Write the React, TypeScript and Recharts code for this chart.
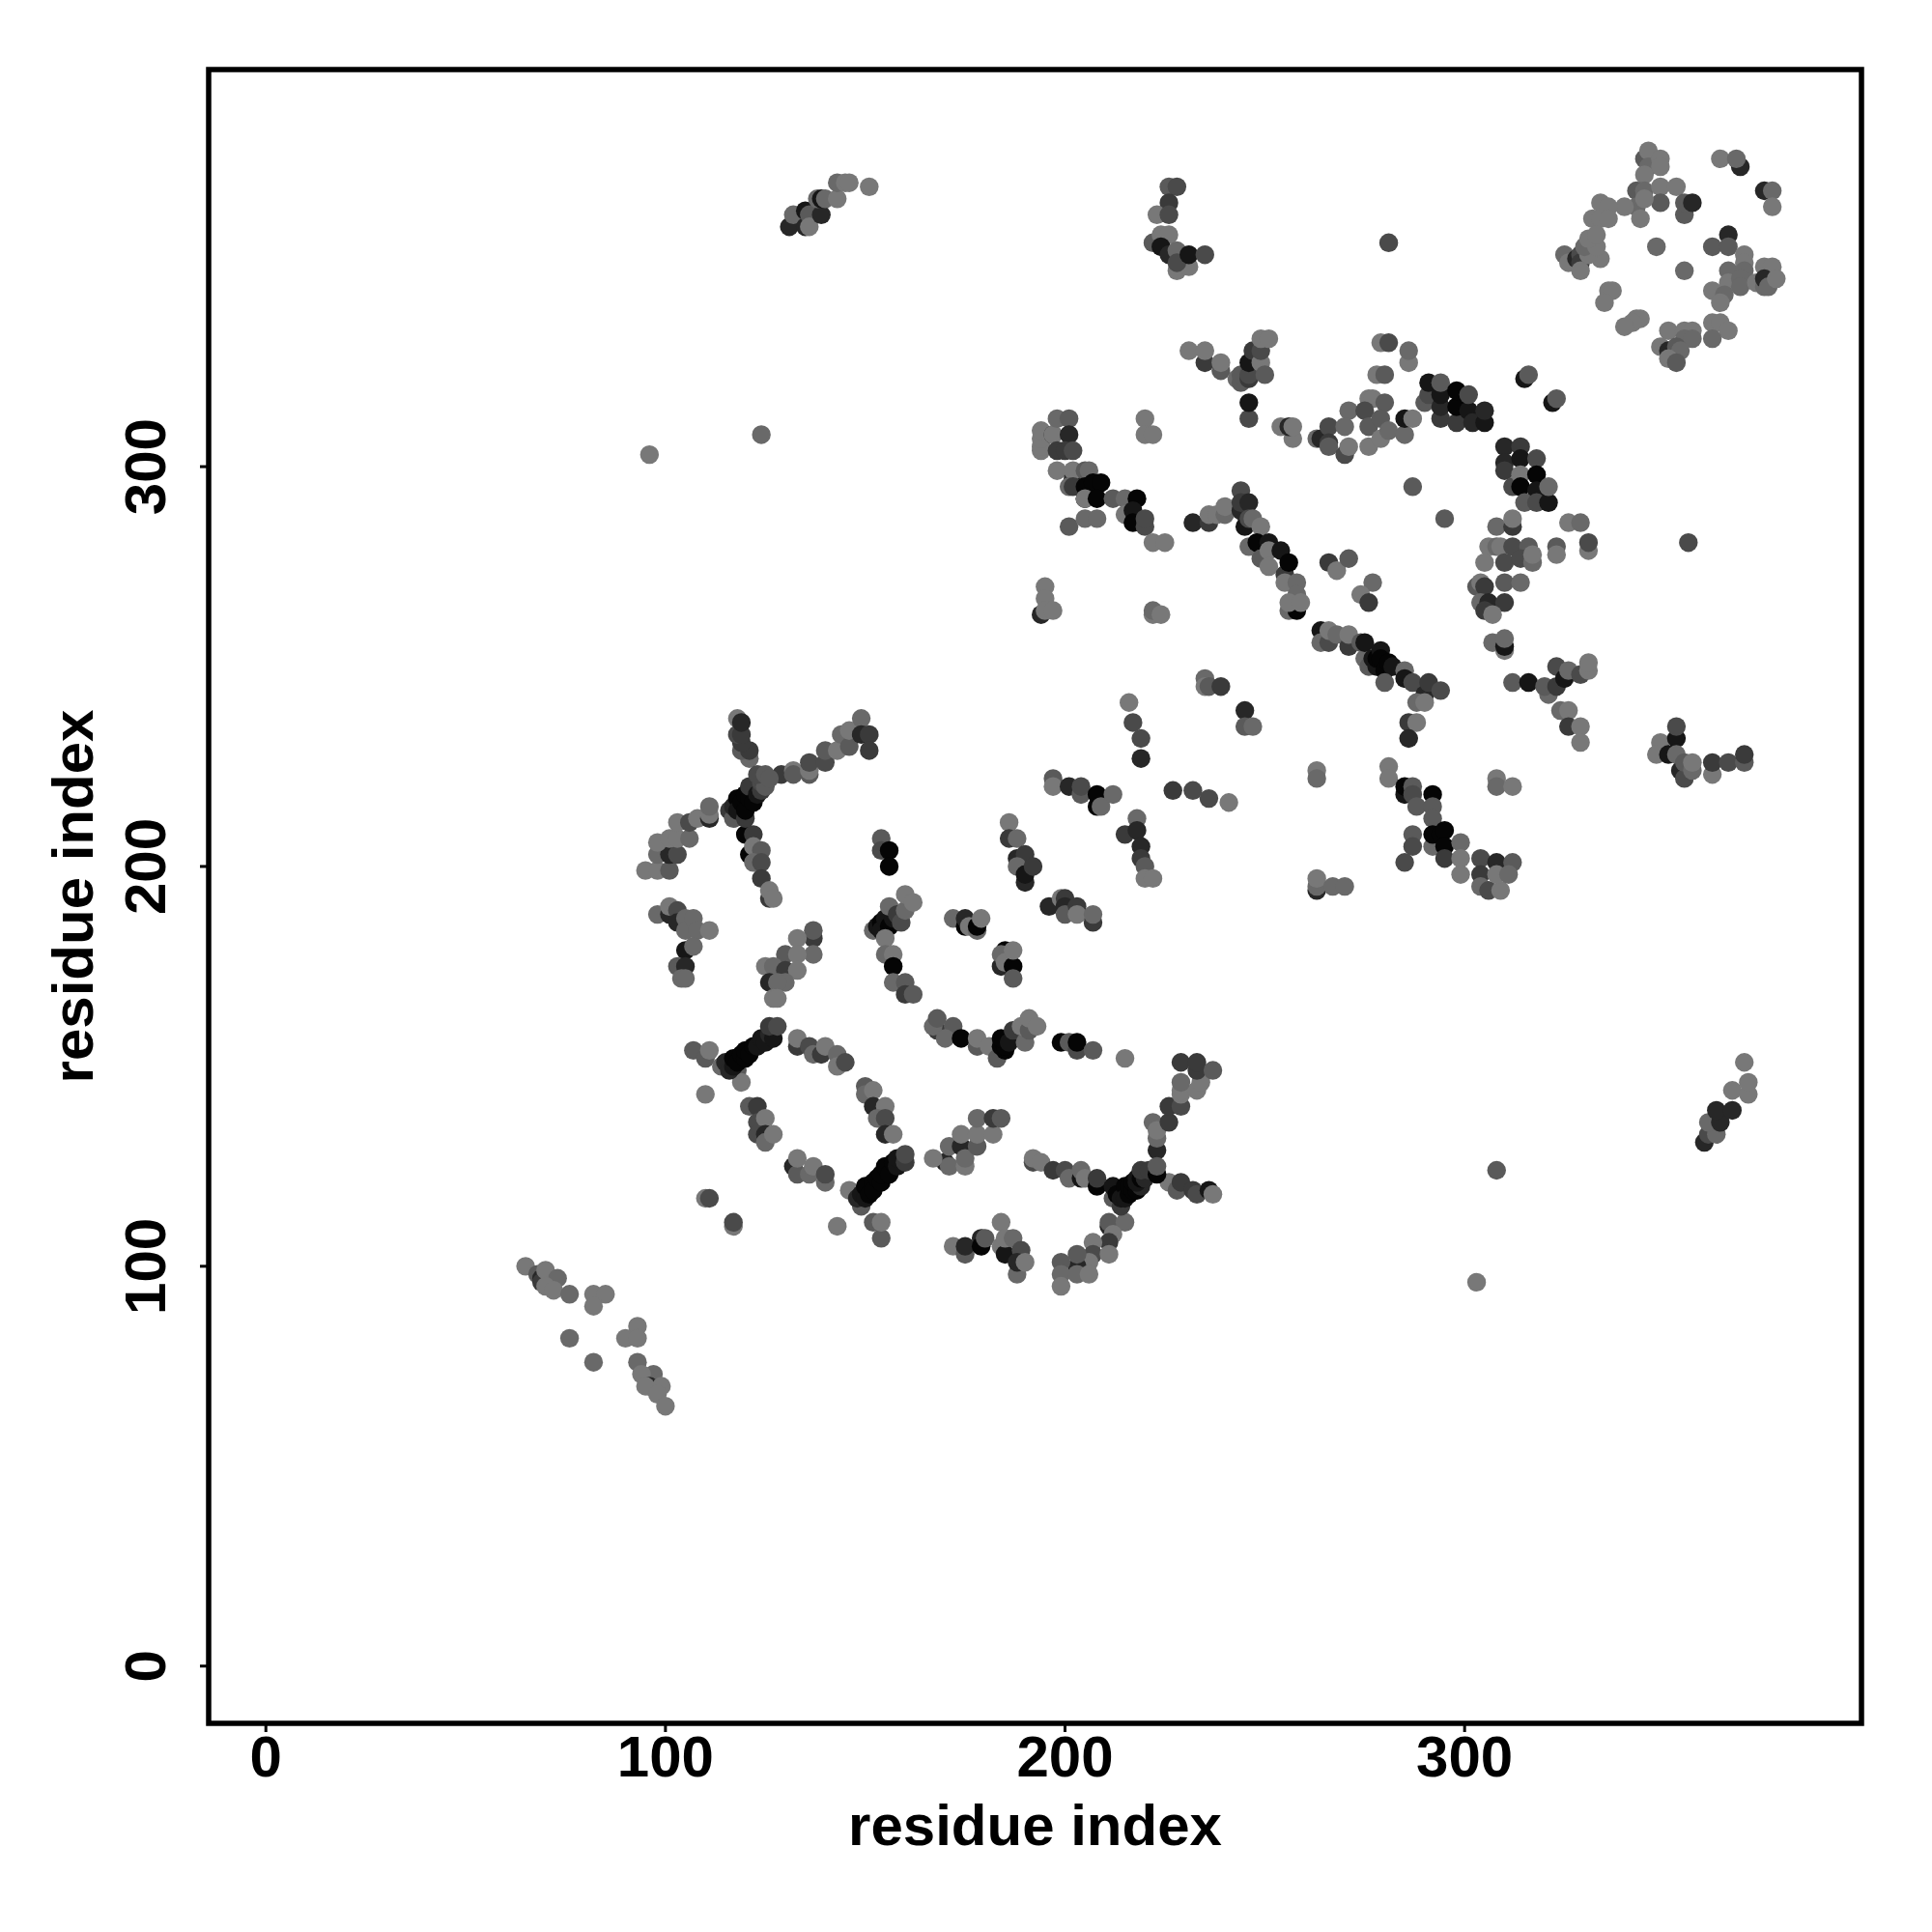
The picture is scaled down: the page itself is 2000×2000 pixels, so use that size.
import React from 'react';
import { ScatterChart, Scatter, XAxis, YAxis, ReferenceArea } from 'recharts';

type T = [number, number, number];

// [residue i, residue j, contact level 0 (darkest) .. 7 (lightest)]
const tail: T[] = [[65,100,7],[68,98,5],[69,97,2],[69,96,3],[70,99,7],[73,97,6],[70,95,7],[72,94,7],[76,93,6],[82,93,7],[85,93,7],[82,90,7],[93,85,7],[90,82,7],[93,82,7],[76,82,6],[82,76,6],[93,76,6],[97,73,6],[94,73,7],[96,70,2],[95,70,7],[99,70,7],[98,68,7],[100,65,7]];
const loners: T[] = [[110,143,7],[110,117,7],[111,117,4],[117,110,7],[117,111,4],[143,110,7],[146,119,7],[215,152,7],[281,356,4],[287,295,5],[295,287,5],[356,281,4],[308,124,5],[303,96,7],[124,308,6],[96,303,7],[348,355,6],[355,349,6]];
const ringA: T[] = [[107,154,5],[110,152,5],[111,154,7],[114,150,6],[118,149,5],[119,146,7],[115,151,2],[116,149,2],[117,150,1],[117,152,0],[118,151,0],[119,153,0],[120,152,0],[120,154,0],[121,153,0],[122,155,0],[123,155,1],[124,157,1],[125,156,1],[126,158,2],[127,157,1],[126,160,3],[128,160,4]];
const ringB: T[] = [[133,155,3],[133,157,7],[136,155,4],[137,153,6],[139,153,3],[140,155,7],[143,153,6],[143,150,7],[145,151,4],[150,145,5],[150,143,6],[152,144,7],[152,140,2],[155,140,7],[153,137,6],[155,137,4],[155,133,2],[157,133,7]];
const ringC: T[] = [[121,140,5],[123,140,3],[123,136,4],[125,137,7],[123,133,4],[125,133,2],[125,131,6],[127,133,7],[132,125,2],[133,123,5],[133,127,7],[136,123,6],[137,125,7],[140,121,6],[140,123,4]];
const ringD: T[] = [[149,115,5],[148,117,2],[149,118,1],[150,117,1],[150,120,0],[151,118,0],[152,121,0],[152,119,0],[153,122,0],[154,121,0],[154,123,0],[155,125,0],[156,123,0],[157,126,0],[158,125,1],[158,127,1],[160,126,3],[160,128,4],[152,111,5],[154,107,5],[154,111,7]];
const arcA: T[] = [[168,159,3],[167,160,6],[168,162,5],[172,160,5],[170,157,6],[174,157,0],[178,155,5],[178,157,7],[181,155,7],[183,152,5],[185,154,0],[184,155,0],[185,155,0],[184,157,0],[186,156,1],[187,159,3],[190,156,6],[189,160,7],[191,159,5],[191,162,7],[193,160,7],[199,156,0],[201,156,5],[203,154,4],[203,156,0],[207,154,5]];
const starW: T[] = [[192,126,4],[192,127,7],[194,126,7],[197,124,3],[200,124,4],[201,122,6],[204,122,1],[204,124,6],[205,122,7],[208,120,0],[208,122,3]];
const starHub: T[] = [[212,117,5],[214,115,3],[212,120,1],[213,118,0],[214,117,1],[215,120,0],[215,117,1],[216,118,0],[216,120,0],[217,119,0],[217,121,0],[218,119,0],[218,122,1],[219,120,2],[218,121,1],[219,122,0],[220,122,2],[219,124,3],[221,124,3],[223,123,0],[223,125,5]];
const starN: T[] = [[223,129,2],[223,132,6],[222,136,6],[223,134,7],[226,136,3],[226,140,3],[229,140,4],[229,143,7],[229,144,7],[233,144,7],[229,146,6],[234,146,7],[229,151,3],[233,149,3],[233,151,3],[237,149,5]];
const starE: T[] = [[226,121,7],[228,119,5],[229,121,3],[232,119,3],[233,118,4],[236,119,1],[237,118,7]];
const starS: T[] = [[211,110,2],[211,111,5],[215,111,6],[212,108,7],[211,106,3],[207,106,7],[207,103,4],[211,103,7],[206,101,7],[203,100,2],[203,103,5],[199,101,5],[199,98,6],[203,98,6],[206,98,7],[199,95,7]];
const patchA: T[] = [[170,126,2],[171,125,6],[167,127,7],[171,130,6],[174,130,2],[174,133,7],[175,125,7],[175,127,6],[178,130,5],[178,133,7],[182,133,7],[178,137,6],[182,137,3],[184,137,5]];
const patchB: T[] = [[172,105,7],[175,103,5],[175,105,2],[179,107,2],[179,105,0],[180,107,5],[184,111,7],[184,105,7],[185,103,1],[185,107,7],[187,107,6],[189,104,4],[188,98,6],[188,101,2],[190,101,7]];
const hubW: T[] = [[95,199,7],[98,199,7],[101,199,5],[98,203,6],[101,203,2],[103,203,4],[98,206,7],[101,207,7],[103,207,7],[106,207,6],[103,211,7],[106,211,4],[108,212,7],[111,212,2],[111,213,7],[111,215,6]];
const hubCore: T[] = [[116,214,3],[117,212,5],[117,215,2],[118,217,0],[118,214,1],[119,216,0],[120,212,3],[120,214,0],[120,218,0],[121,217,0],[122,219,0],[121,220,3],[122,216,0],[123,218,1],[124,219,3],[124,221,4],[125,220,5],[123,223,4],[125,223,5],[126,222,5]];
const hubN: T[] = [[121,227,6],[119,229,5],[121,229,3],[119,231,3],[118,233,4],[119,233,3],[118,237,7],[119,236,2]];
const hubE: T[] = [[129,223,3],[132,224,7],[132,223,5],[136,223,5],[136,224,7],[136,226,4],[140,226,4],[140,229,5],[143,229,7],[144,233,6],[146,230,5],[146,234,7],[149,237,6],[149,233,2],[151,233,3],[151,229,3]];
const hubS: T[] = [[120,208,0],[122,208,3],[121,203,0],[122,205,7],[124,204,5],[122,201,6],[124,201,4],[124,197,3],[126,192,3],[126,194,7],[127,192,7]];
const leftA: T[] = [[98,188,6],[101,188,2],[101,190,7],[103,189,4],[103,186,2],[105,187,6],[105,184,6],[107,187,6],[108,184,6],[111,184,7],[105,179,1],[107,180,6],[103,175,5],[105,175,2],[104,172,6],[105,172,6]];
const midA: T[] = [[137,182,3],[137,184,5],[133,182,7],[137,178,6],[130,178,5],[133,178,7],[125,175,7],[127,175,6],[130,174,3],[133,174,7],[126,171,2],[130,171,6],[128,171,6],[127,167,7],[128,167,7]];
const midB: T[] = [[154,207,5],[154,204,4],[156,204,0],[156,200,0],[152,184,6],[153,185,1],[154,186,0],[154,184,1],[155,187,1],[156,185,0],[157,187,1],[155,182,7],[156,190,6],[158,188,3],[159,186,4],[160,189,6],[160,193,7],[162,191,7],[155,178,6],[157,178,7],[157,175,0],[157,171,6],[160,171,5],[160,168,3],[162,168,5]];
const midC: T[] = [[172,187,6],[175,185,0],[175,187,2],[176,185,7],[178,184,6],[178,185,0],[179,187,7],[184,175,2],[185,179,0],[184,178,6],[185,176,7],[187,175,0],[187,179,7],[187,172,5]];
const midD: T[] = [[186,211,7],[186,207,3],[188,207,6],[188,202,2],[190,203,3],[188,200,6],[190,196,2],[190,198,1],[192,200,3]];
const midE: T[] = [[196,190,2],[199,192,7],[200,192,3],[200,190,2],[200,188,5],[203,190,3],[203,188,7],[207,186,3],[207,188,6],[197,222,5],[197,220,7],[201,220,2],[204,218,5],[204,220,4],[208,218,0],[208,215,0],[209,215,6],[212,218,6]];
const midF: T[] = [[216,241,7],[217,236,4],[219,232,4],[219,227,2],[227,219,3],[232,219,4],[236,217,4],[241,216,7],[218,212,6],[215,208,3],[218,209,2],[219,205,2],[219,202,3],[220,200,5],[220,197,7],[222,197,7]];
const upA: T[] = [[194,304,7],[194,305,7],[194,307,7],[194,309,7],[197,308,2],[197,308,7],[198,312,6],[201,312,5],[201,308,2],[198,304,3],[200,304,3],[202,304,4],[198,299,7],[202,297,2],[202,299,7],[201,295,6],[202,295,3],[205,299,5],[206,299,6],[205,295,0],[207,296,0],[209,296,0],[205,292,0],[205,292,7],[208,292,0],[212,292,5],[215,292,6],[218,292,0],[215,288,7],[217,289,1],[217,286,0],[220,285,4],[220,287,4],[201,285,5],[205,287,6],[208,287,6],[222,281,7],[225,281,7],[220,312,7],[220,308,7],[222,308,7]];
const upB: T[] = [[194,263,2],[195,270,7],[195,267,7],[195,264,7],[197,264,7],[222,263,7],[222,264,6],[224,263,7]];
const diagA: T[] = [[232,286,2],[236,286,3],[236,288,7],[238,288,7],[240,288,6],[240,290,7],[244,294,4],[245,285,1],[244,289,2],[244,291,3],[246,291,2],[246,287,4],[247,287,6],[249,285,7],[246,280,6],[248,281,0],[251,281,1],[249,277,5],[251,279,7],[251,275,7],[254,279,1],[255,273,3],[256,276,0],[255,271,7],[258,271,6],[258,268,6],[256,264,6],[258,264,0],[256,266,7],[259,266,7]];
const diagB: T[] = [[264,259,1],[264,256,6],[266,256,4],[266,259,7],[268,258,6],[271,255,3],[271,258,7],[274,256,5],[275,252,6],[275,256,1],[276,250,5],[277,252,1],[278,250,1],[278,252,0],[279,254,1],[279,252,0],[280,249,0],[281,251,0],[282,250,1],[280,246,5],[285,249,6],[285,247,1],[287,246,4],[290,243,2],[288,241,6],[290,241,7],[291,246,3],[294,244,4],[286,236,3],[288,236,7],[286,232,2]];
const smallA: T[] = [[235,247,6],[235,245,7],[236,245,5],[239,245,3],[245,239,2],[245,235,5],[247,235,6],[266,276,3],[268,274,7],[271,277,5],[277,271,6],[274,268,7],[276,266,3],[263,224,7],[263,222,6],[281,225,7],[281,222,7],[308,222,7],[308,220,6],[312,220,7]];
const lowerA: T[] = [[285,218,1],[285,220,0],[287,220,5],[287,218,4],[288,215,5],[292,218,0],[292,215,5],[292,212,5],[287,208,5],[287,205,4],[285,201,4],[292,205,6],[292,208,0],[294,208,0],[295,209,0],[295,205,0],[295,202,3],[299,206,6],[299,202,7],[299,198,7]];
const lowerB: T[] = [[304,202,4],[304,198,3],[304,195,6],[306,194,4],[308,201,2],[309,194,7],[308,198,7],[312,201,5],[311,198,6],[263,194,2],[263,195,6],[263,197,7],[267,195,6],[270,195,6]];
const topA: T[] = [[131,360,2],[132,363,6],[135,360,2],[135,364,1],[136,363,5],[136,360,7],[139,363,2],[138,367,6],[139,367,1],[140,367,6],[143,367,7],[143,371,6],[145,371,7],[146,371,7],[151,370,7]];
const topB: T[] = [[226,370,5],[228,370,4],[226,366,3],[223,363,7],[226,363,4],[222,356,5],[224,358,7],[226,358,7],[224,355,1],[226,353,2],[228,354,6],[228,349,7],[231,350,7],[228,351,4],[231,353,1],[235,353,4]];
const topC: T[] = [[231,329,7],[235,326,3],[235,329,7],[239,324,5],[239,326,7],[243,322,6],[244,321,5],[244,323,5],[246,322,3],[246,323,4],[246,326,1],[247,329,3],[249,326,7],[249,329,4],[249,332,7],[251,332,7],[250,323,5],[246,312,4],[246,316,1]];
const topD: T[] = [[254,310,7],[257,307,7],[256,310,2],[257,310,7],[263,307,6],[264,307,2],[266,310,4],[266,306,3],[266,305,5],[270,303,4],[271,314,6],[270,310,6],[271,305,7],[276,317,7],[277,317,7],[275,314,4],[276,310,5],[276,305,7],[280,316,5],[279,312,5],[279,307,7],[281,309,6],[285,308,6],[285,312,1],[287,312,7],[279,331,7],[281,331,4],[286,326,7],[286,329,6],[278,323,7],[280,323,5]];
const topE: T[] = [[290,316,5],[291,318,4],[291,321,1],[294,312,3],[294,315,2],[294,318,1],[294,321,5],[298,311,3],[298,315,0],[298,319,0],[301,314,1],[301,318,4],[302,311,2],[305,311,1],[305,314,2],[315,322,1],[316,323,5],[322,316,1],[323,317,5]];
const blockA: T[] = [[310,305,2],[314,305,3],[310,301,2],[310,299,3],[314,302,1],[318,302,4],[312,295,4],[314,298,7],[314,295,0],[318,298,0],[318,294,1],[315,291,5],[318,291,4],[321,291,1],[321,295,6]];
const blockB: T[] = [[308,285,6],[312,285,3],[312,287,7],[306,280,7],[308,280,6],[309,280,7],[312,280,4],[316,280,5],[305,276,7],[310,276,4],[314,277,4],[317,276,6],[317,278,7],[326,286,7],[329,286,6],[323,280,5],[323,278,7],[331,279,7],[331,281,4]];
const blockC: T[] = [[303,270,5],[304,271,7],[305,270,3],[310,271,5],[314,271,6],[304,266,6],[306,266,2],[310,266,3],[305,264,3],[307,263,7],[307,256,6],[310,254,7],[310,255,1],[310,257,6]];
const rightA: T[] = [[312,246,5],[316,246,1],[321,243,6],[320,245,5],[323,245,3],[323,250,4],[325,247,1],[326,249,6],[329,248,4],[331,249,7],[331,251,7],[324,239,6],[326,239,7],[326,235,3],[329,235,7],[329,231,7]];
const rightB: T[] = [[349,231,7],[348,228,7],[353,232,1],[353,235,4],[351,228,1],[353,228,6],[354,224,2],[355,222,4],[355,226,5],[357,224,6],[357,226,7],[362,223,7],[362,226,3],[366,226,4],[370,226,5],[370,228,3]];
const rightC: T[] = [[360,131,2],[361,133,4],[363,133,6],[361,136,6],[364,136,2],[363,139,2],[367,139,2],[367,144,7],[371,143,7],[371,146,7],[370,151,7]];
const cornerA: T[] = [[345,377,5],[346,379,7],[346,375,6],[349,377,7],[349,375,7],[345,373,7],[343,369,5],[345,369,6],[349,370,7],[353,370,7],[343,365,6],[340,365,7],[349,366,5],[345,367,7],[344,362,7],[355,363,5],[355,366,5],[357,366,2],[364,377,7],[369,375,2],[368,377,6],[375,369,2],[377,369,6],[377,365,7]];
const cornerB: T[] = [[334,366,7],[336,365,7],[332,362,7],[334,362,7],[336,362,7],[325,353,6],[326,351,7],[328,352,2],[329,353,4],[329,351,3],[329,349,7],[334,352,7],[331,353,7],[330,355,6],[333,355,7],[331,357,7],[333,358,7]];
const cornerC: T[] = [[366,358,2],[362,355,5],[366,355,5],[370,353,7],[370,351,7],[366,349,6],[370,349,6],[366,346,7],[369,347,6],[369,345,6],[362,344,7],[365,343,6],[364,341,7],[375,350,7],[377,350,7],[373,346,7],[375,345,6],[375,347,2],[376,345,6],[378,347,7]];
const cornerD: T[] = [[336,344,7],[337,344,7],[335,341,7],[343,337,7],[344,337,7],[342,336,7],[340,335,7],[351,334,7],[355,334,7],[357,334,7],[362,336,7],[364,336,7],[366,334,7],[362,332,6],[355,332,6],[357,332,6],[349,330,7],[351,329,2],[353,330,5],[354,329,6],[351,327,7],[353,326,5]];

const clusters: T[][] = [tail, loners, ringA, ringB, ringC, ringD, arcA, starW, starS, starN, starE, starHub, patchA, patchB, hubW, hubN, hubE, hubS, hubCore, leftA, midA, midB, midC, midD, midE, midF, upA, upB, diagA, diagB, smallA, lowerA, lowerB, topA, topB, topC, topD, topE, blockA, blockB, blockC, rightA, rightB, rightC, cornerA, cornerB, cornerC, cornerD];
const contacts = clusters.flat().map(([i, j, level]) => ({ i, j, level }));

const levelGrey = ['#050505', '#161616', '#272727', '#3a3a3a', '#4a4a4a', '#5a5a5a', '#696969', '#787878'];
const axisTicks = [0, 100, 200, 300];
const axisLabel = 'residue index';
const lo = -14.32;
const hi = 399.32;
const font = '"Liberation Sans", Arial, sans-serif';

const Dot = (p: any) => <circle cx={p.cx} cy={p.cy} r={9.7} fill={levelGrey[p.payload.level]} />;

const XTick = (p: any) => (
  <text x={p.x} y={1839} textAnchor="middle" fontFamily={font} fontWeight={700} fontSize={60} fill="#000">{p.payload.value}</text>
);
const YTick = (p: any) => (
  <text x={171} y={p.y} transform={`rotate(-90 171 ${p.y})`} textAnchor="middle" fontFamily={font} fontWeight={700} fontSize={60} fill="#000">{p.payload.value}</text>
);

export default function App() {
  return (
    <div style={{ position: 'absolute', left: 0, top: 0, width: 2000, height: 2000 }}>
      <ScatterChart width={2000} height={2000} margin={{ top: 72, right: 73, left: 0, bottom: 0 }}>
        <XAxis type="number" dataKey="i" domain={[lo, hi]} ticks={axisTicks} height={216} axisLine={false} tickSize={9} interval={0}
          tickLine={{ stroke: '#000', strokeWidth: 3 }} tick={XTick}
          label={{ value: axisLabel, position: 'insideBottom', offset: 90, fontFamily: font, fontWeight: 700, fontSize: 60, fill: '#000' }} />
        <YAxis type="number" dataKey="j" domain={[lo, hi]} ticks={axisTicks} width={216} axisLine={false} tickSize={9} interval={0}
          tickLine={{ stroke: '#000', strokeWidth: 3 }} tick={YTick}
          label={{ value: axisLabel, angle: -90, position: 'insideLeft', offset: 75, fontFamily: font, fontWeight: 700, fontSize: 60, fill: '#000', style: { textAnchor: 'middle' } }} />
        <Scatter data={contacts} isAnimationActive={false} shape={Dot} />
        <ReferenceArea x1={lo} x2={hi} y1={lo} y2={hi} fill="none" stroke="#000" strokeWidth={5.5} ifOverflow="visible" />
      </ScatterChart>
    </div>
  );
}
